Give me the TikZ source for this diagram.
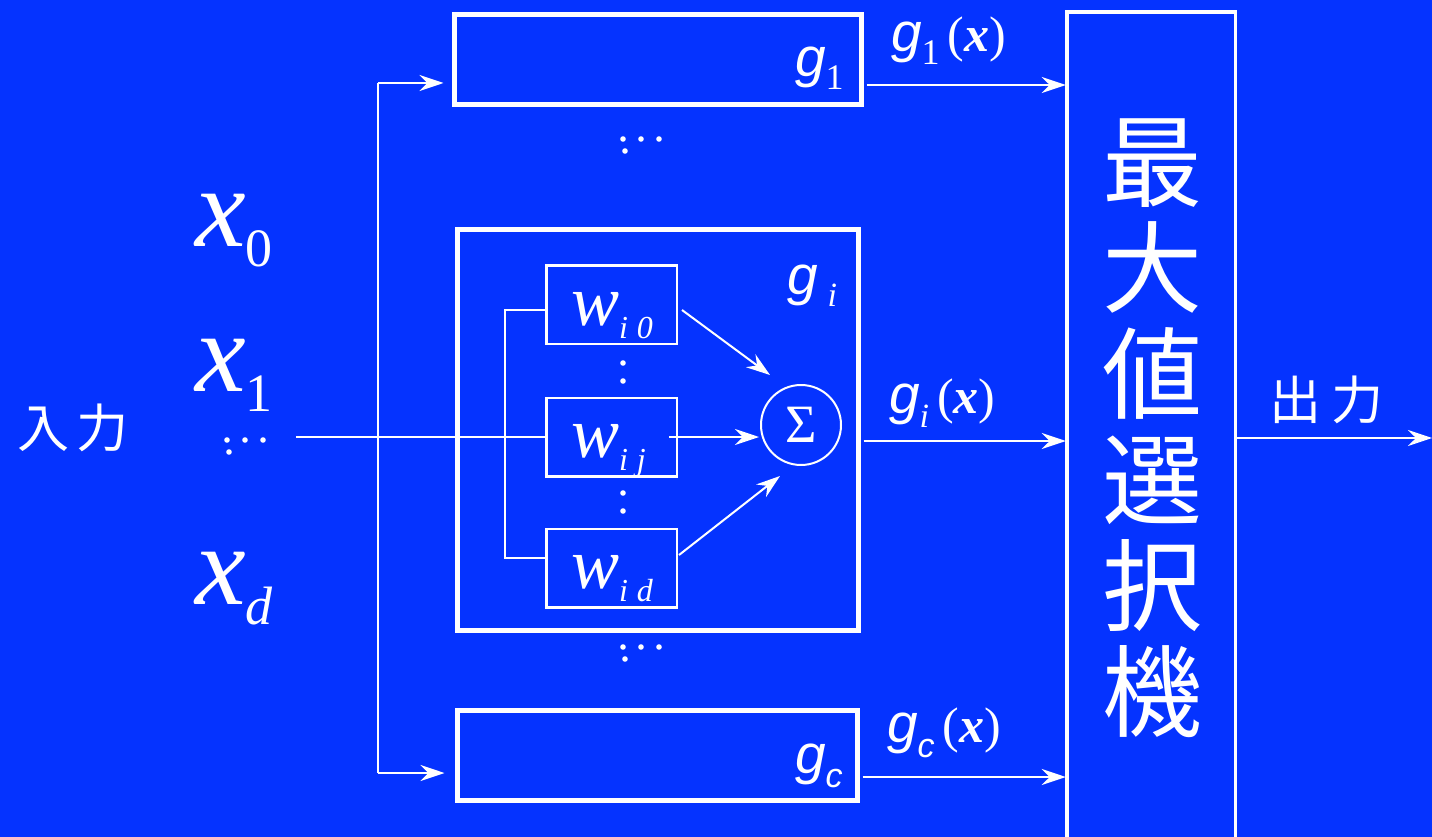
\documentclass[tikz,border=0pt]{standalone}
\usepackage{fontspec}
\setmainfont{Liberation Serif}
\setsansfont{Liberation Sans}
\newfontfamily\cjk{Noto Sans CJK JP}
\usetikzlibrary{arrows.meta,calc}
\definecolor{bgblue}{RGB}{5,51,255}
\newcommand{\gsym}{{\sffamily\itshape g}}
\newcommand{\fs}[1]{\fontsize{#1}{#1}\selectfont}
\begin{document}
\begin{tikzpicture}[x=1pt,y=-1pt,
  every node/.style={text=white, inner sep=0pt, outer sep=0pt},
  thinline/.style={draw=white, line width=2pt},
  arr/.style={thinline, -{Stealth[length=24pt,width=16pt,inset=8pt]}},
  gbox/.style={draw=white, line width=5pt, rectangle},
  wbox/.style={draw=white, line width=2.5pt, rectangle, minimum width=130.5pt, minimum height=78.5pt},
  lab/.style={anchor=base west, font=\fs{55}}]
\clip (0,0) rectangle (1432,837);
\fill[bgblue] (0,0) rectangle (1432,837);

% boxes
\node[gbox, minimum width=407pt, minimum height=90pt] (g1) at (658,59.5) {};
\node[gbox, minimum width=401pt, minimum height=401pt] (gi) at (658,430) {};
\node[gbox, minimum width=400pt, minimum height=90pt] (gc) at (657.5,755.5) {};
\node[draw=white, line width=3.5pt, minimum width=168.5pt, minimum height=840pt] (sel) at (1151,432) {};

\node[wbox] (wi0) at (611.5,304.5) {};
\node[wbox] (wij) at (611.5,437) {};
\node[wbox] (wid) at (611.5,568) {};
\node[circle, draw=white, line width=2pt, minimum size=80pt, font=\fs{54}] (sum) at (801,425) {Σ};

% texts
\node[font=\cjk\fs{52}] (inlab) at (73,428) {入\hspace{8pt}力};
\node[font=\cjk\fs{52}] (outlab) at (1326,400) {出\hspace{10pt}力};
\node[font=\cjk\fontsize{100}{106}\selectfont, align=center] (seltext) at (1152,428) {最\\大\\値\\選\\択\\機};

\node[anchor=base west] (x0) at (195,247) {{\fs{114}\itshape x}\raisebox{-20pt}{\fs{54}0}};
\node[anchor=base west] (x1) at (195,391) {{\fs{114}\itshape x}\raisebox{-20pt}{\fs{54}1}};
\node[anchor=base west] (xd) at (195,604) {{\fs{114}\itshape x}\raisebox{-20pt}{\fs{54}\itshape d}};

\node[anchor=base west] (lwi0) at (571,325) {{\fs{72}\itshape w}\raisebox{-13pt}{\fs{32}\itshape i\hspace{9pt}0}};
\node[anchor=base west] (lwij) at (571,457) {{\fs{72}\itshape w}\raisebox{-13pt}{\fs{32}\itshape i\hspace{9pt}j}};
\node[anchor=base west] (lwid) at (571,588.5) {{\fs{72}\itshape w}\raisebox{-13pt}{\fs{32}\itshape i\hspace{9pt}d}};

\node[lab] (lg1) at (795,77) {\gsym\raisebox{-13pt}{\fs{36}1}};
\node[lab] (lgi) at (787,294) {\gsym\hspace{10pt}\raisebox{-13pt}{\fs{34}\itshape i}};
\node[lab] (lgc) at (795,773) {\gsym\raisebox{-14pt}{\fs{34}\sffamily\itshape c}};

\node[lab] (lg1x) at (891,52) {\gsym\raisebox{-13pt}{\fs{36}1}\hspace{8pt}{\fs{50}(\textbf{\textit{x}})}};
\node[lab] (lgix) at (889,413) {\gsym\raisebox{-14pt}{\fs{34}\itshape i}\hspace{8pt}{\fs{50}(\textbf{\textit{x}})}};
\node[lab] (lgcx) at (887,742) {\gsym\raisebox{-15pt}{\fs{34}\sffamily\itshape c}\hspace{8pt}{\fs{50}(\textbf{\textit{x}})}};

% dots
\foreach \yy in {0,508}{
  \fill[white] (623,139+\yy) circle (2.8) (641,139+\yy) circle (2.8) (659,139+\yy) circle (2.8) (625,151+\yy) circle (2.8);
}
\fill[white] (227,440) circle (2.8) (245,440) circle (2.8) (263,440) circle (2.8) (229,452) circle (2.8);
\foreach \yy in {363,381,493,511}{\fill[white] (623,\yy) circle (2.8);}

% connectors
\coordinate (in) at (296,437);
\coordinate (vtop) at (378,83);
\coordinate (vbot) at (378,773);
\draw[thinline] (in) -- (wij.west);
\draw[thinline] (vtop) -- (vbot);
\draw[arr, shorten >=11pt] (vtop) -- (g1.west |- vtop);
\draw[arr, shorten >=13pt] (vbot) -- (gc.west |- vbot);

\coordinate (a0) at (505,310);
\coordinate (ad) at (505,558);
\draw[thinline] (wi0.west |- a0) -- (a0) -- (ad) -- (wid.west |- ad);

\coordinate (t0) at (770,375);
\coordinate (td) at (780,476);
\coordinate (s0) at (682,310);
\coordinate (sd) at (679,555);
\draw[arr] (s0) -- (t0);
\draw[arr, shorten >=2pt] ([xshift=-8pt]wij.east) -- (sum.west |- wij.east);
\draw[arr] (sd) -- (td);

\coordinate (o1) at (0,85);
\coordinate (oi) at (0,441);
\coordinate (oc) at (0,777);
\draw[arr, shorten <=5pt, shorten >=1pt] (g1.east |- o1) -- (sel.west |- o1);
\draw[arr, shorten <=5pt, shorten >=1pt] (gi.east |- oi) -- (sel.west |- oi);
\draw[arr, shorten <=5pt, shorten >=1pt] (gc.east |- oc) -- (sel.west |- oc);
\coordinate (oend) at (1432,438);
\draw[arr, shorten <=2pt] (sel.east |- oend) -- (oend);
\end{tikzpicture}
\end{document}
